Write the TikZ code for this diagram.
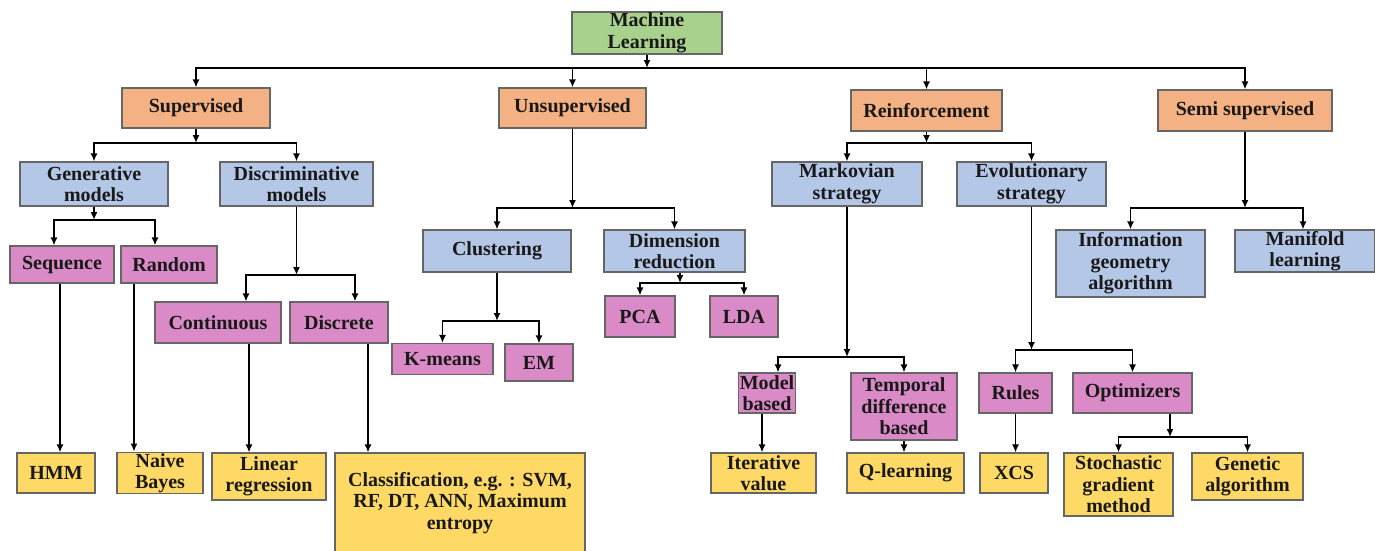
\documentclass[tikz,border=0pt]{standalone}
\usepackage{fontspec}
\setmainfont{Liberation Serif}
\usetikzlibrary{arrows.meta}

\definecolor{mlgreen}{HTML}{A9D18E}
\definecolor{catorange}{HTML}{F4B183}
\definecolor{subblue}{HTML}{B4C7E7}
\definecolor{leafpink}{HTML}{D98AC7}
\definecolor{endyellow}{HTML}{FFD966}

\tikzset{
	box/.style={draw=black!60, line width=1.1pt, inner sep=1pt, align=center,
		font=\fontsize{20}{21.5}\selectfont\bfseries, text=black!90},
	box size/.style 2 args={minimum width=#1pt, minimum height=#2pt},
	root/.style={box, fill=mlgreen},
	cat/.style={box, fill=catorange},
	sub/.style={box, fill=subblue},
	leaf/.style={box, fill=leafpink},
	algo/.style={box, fill=endyellow},
	arr/.style={draw=black, line width=1.9pt, -{Latex[length=8pt,width=7pt]}}
}

\begin{document}
\begin{tikzpicture}[x=1pt, y=-1pt]
	\useasboundingbox (0,0) rectangle (1375,550);

	\node (ML) at (647, 33)	[root, box size={150}{42}]	{Machine\\Learning};

	\node (Sup) at (196, 108)	[cat, box size={148}{40}]	{Supervised};
	\node (Unsup) at (572.5, 108)	[cat, box size={147}{40}]	{Unsupervised};
	\node (Reinf) at (926.5, 110.5)	[cat, box size={151}{41}]	{Reinforcement};
	\node (Semi) at (1245, 110.5)	[cat, box size={174}{41}]	{Semi supervised};

	\node (Gen) at (94, 184)	[sub, box size={148}{44}]	{Generative\\models};
	\node (Disc) at (296.5, 184)	[sub, box size={153}{44}]	{Discriminative\\models};
	\node (Seq) at (62, 264.5)	[leaf, box size={104}{37}]	{Sequence};
	\node (Rand) at (169, 264.5)	[leaf, box size={96}{37}]	{Random};
	\node (Cont) at (218, 322.5)	[leaf, box size={126}{41}]	{Continuous};
	\node (Discr) at (339, 322.5)	[leaf, box size={98}{41}]	{Discrete};
	\node (HMM) at (56, 473)	[algo, box size={78}{40}]	{HMM};
	\node (NB) at (160, 473)	[algo, box size={86}{40}]	{Naive\\Bayes};
	\node (LR) at (269, 476.5)	[algo, box size={114}{47}]	{Linear\\regression};
	\node (Class) at (460, 503)	[algo, box size={250}{100}]	{Classification, e.g. : SVM,\\RF, DT, ANN, Maximum\\entropy};

	\node (Clust) at (497, 251)	[sub, box size={148}{42}]	{Clustering};
	\node (Dim) at (674.5, 251)	[sub, box size={141}{42}]	{Dimension\\reduction};
	\node (Kmeans) at (442.5, 359)	[leaf, box size={101}{31}]	{K-means};
	\node (EM) at (539, 362.5)	[leaf, box size={68}{37}]	{EM};
	\node (PCA) at (640, 316.5)	[leaf, box size={70}{41}]	{PCA};
	\node (LDA) at (744, 316.5)	[leaf, box size={68}{41}]	{LDA};

	\node (Markov) at (847, 184)	[sub, box size={150}{44}]	{Markovian\\strategy};
	\node (Evol) at (1031.5, 184)	[sub, box size={149}{44}]	{Evolutionary\\strategy};
	\node (Model) at (767, 393)	[leaf, box size={52}{40}]	{Model\\based};
	\node (TD) at (904, 406.5)	[leaf, box size={106}{67}]	{Temporal\\difference\\based};
	\node (Rules) at (1015.5, 393)	[leaf, box size={73}{40}]	{Rules};
	\node (Opt) at (1132.5, 393)	[leaf, box size={119}{40}]	{Optimizers};
	\node (IterV) at (763.5, 473)	[algo, box size={105}{40}]	{Iterative\\value};
	\node (Qlearn) at (905.5, 473)	[algo, box size={117}{40}]	{Q-learning};
	\node (XCS) at (1014, 473)	[algo, box size={68}{40}]	{XCS};
	\node (SGM) at (1118.5, 484.5)	[algo, box size={109}{63}]	{Stochastic\\gradient\\method};
	\node (GA) at (1247.5, 476.5)	[algo, box size={111}{47}]	{Genetic\\algorithm};

	\node (IGA) at (1130.5, 263.5)	[sub, box size={149}{67}]	{Information\\geometry\\algorithm};
	\node (Manifold) at (1305, 251)	[sub, box size={140}{42}]	{Manifold\\learning};

	% top level
	\coordinate (bML) at (647, 68);
	\draw[arr] (ML) -- (bML);
	\draw[arr] (bML) -| (Sup);
	\draw[arr] (bML) -| (Unsup);
	\draw[arr] (bML) -| (Reinf);
	\draw[arr] (bML) -| (Semi);

	% supervised
	\coordinate (bSup) at (196, 143);
	\draw[arr] (Sup) -- (bSup);
	\draw[arr] (bSup) -| (Gen);
	\draw[arr] (bSup) -| (Disc);
	\coordinate (bGen) at (94, 220);
	\draw[arr] (Gen) -- (bGen);
	\draw[arr] (bGen) -| ([xshift=-8pt]Seq.north);
	\draw[arr] (bGen) -| ([xshift=-14pt]Rand.north);
	\coordinate (bDisc) at (296.5, 275);
	\draw[arr] (Disc) -- (bDisc);
	\draw[arr] (bDisc) -| ([xshift=28pt]Cont.north);
	\draw[arr] (bDisc) -| ([xshift=16pt]Discr.north);
	\draw[arr] ([xshift=-2pt]Seq.south) -- ([xshift=4pt]HMM.north);
	\draw[arr] ([xshift=-35pt]Rand.south) -- ([xshift=-26pt]NB.north);
	\draw[arr] ([xshift=31pt]Cont.south) -- ([xshift=-20pt]LR.north);
	\draw[arr] ([xshift=29pt]Discr.south) -- ([xshift=-92pt]Class.north);

	% unsupervised
	\coordinate (bUnsup) at (572.5, 208);
	\draw[arr] (Unsup) -- (bUnsup);
	\draw[arr] (bUnsup) -| (Clust);
	\draw[arr] (bUnsup) -| (Dim);
	\coordinate (bClust) at (497, 321);
	\draw[arr] (Clust) -- (bClust);
	\draw[arr] (bClust) -| (Kmeans);
	\draw[arr] (bClust) -| (EM);
	\coordinate (bDim) at (680, 283);
	\draw[arr] ([xshift=5.5pt]Dim.south) -- (bDim);
	\draw[arr] (bDim) -| (PCA);
	\draw[arr] (bDim) -| (LDA);

	% reinforcement
	\coordinate (bReinf) at (926.5, 143);
	\draw[arr] (Reinf) -- (bReinf);
	\draw[arr] (bReinf) -| (Markov);
	\draw[arr] (bReinf) -| (Evol);
	\coordinate (bMarkov) at (847, 357);
	\draw[arr] (Markov) -- (bMarkov);
	\draw[arr] (bMarkov) -| ([xshift=11pt]Model.north);
	\draw[arr] (bMarkov) -| (TD);
	\draw[arr] ([xshift=-5pt]Model.south) -- ([xshift=-1.5pt]IterV.north);
	\draw[arr] (TD.south) -- (TD.south |- Qlearn.north);
	\coordinate (bEvol) at (1031.5, 350);
	\draw[arr] (Evol) -- (bEvol);
	\draw[arr] (bEvol) -| (Rules);
	\draw[arr] (bEvol) -| (Opt);
	\draw[arr] (Rules.south) -- (Rules.south |- XCS.north);
	\coordinate (bOpt) at (1170, 437);
	\draw[arr] ([xshift=37.5pt]Opt.south) -- (bOpt);
	\draw[arr] (bOpt) -| (SGM);
	\draw[arr] (bOpt) -| (GA);

	% semi supervised
	\coordinate (bSemi) at (1245, 208);
	\draw[arr] (Semi) -- (bSemi);
	\draw[arr] (bSemi) -| (IGA);
	\draw[arr] (bSemi) -| ([xshift=-2pt]Manifold.north);
\end{tikzpicture}
\end{document}
